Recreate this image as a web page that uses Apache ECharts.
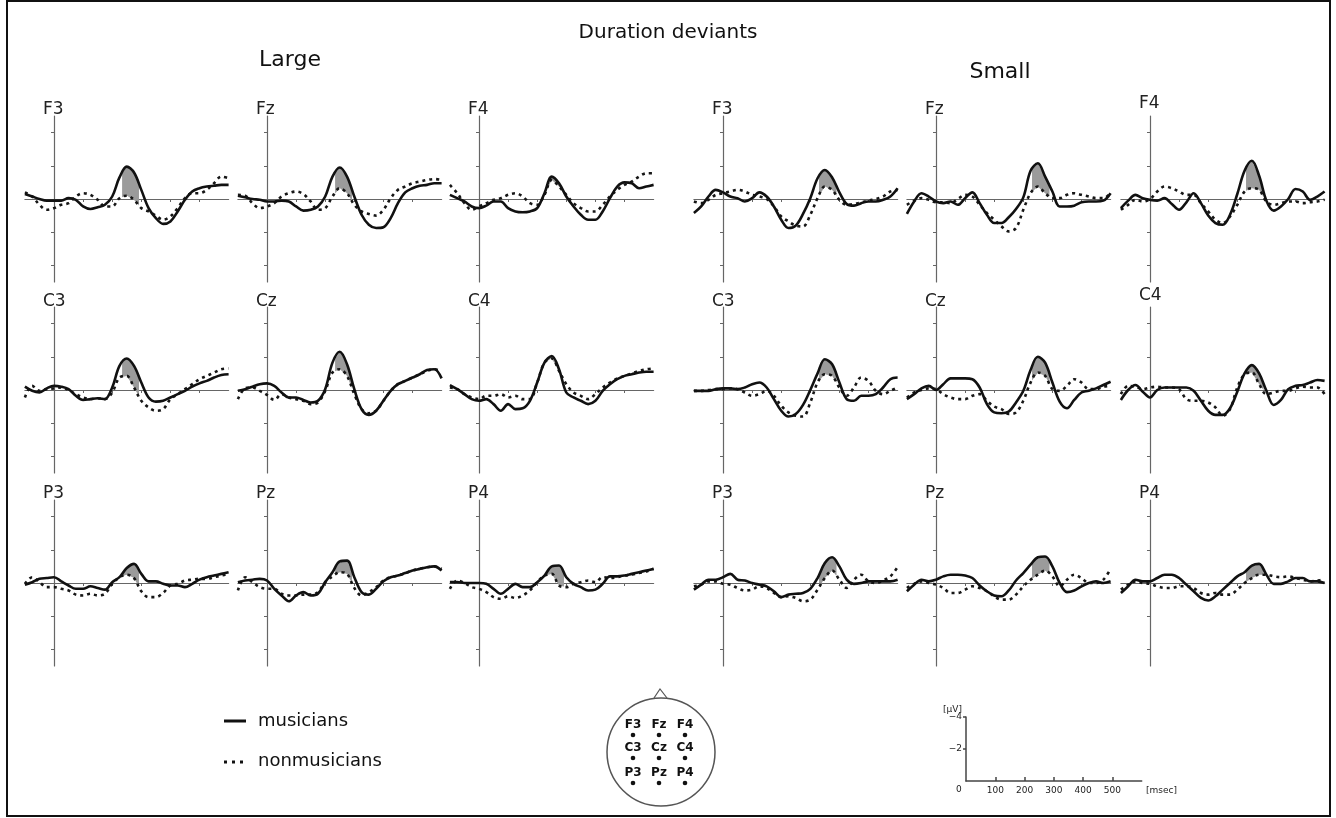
<!DOCTYPE html>
<html><head><meta charset="utf-8">
<script src="https://cdn.jsdelivr.net/npm/echarts@6/dist/echarts.min.js"></script>
<style>html,body{margin:0;padding:0;background:#fff}#c{width:1336px;height:818px}</style>
</head><body><div id="c"></div>
<script>
// time axis (ms)
const times = [-100,-75,-50,-25,0,25,50,75,100,125,150,175,200,225,250,275,300,325,350,375,400,425,450,475,500,525,550,575,600];
const electrodes = ['F3','Fz','F4','C3','Cz','C4','P3','Pz','P4'];
const conditions = ['Large','Small'];
const groups = ['musicians','nonmusicians'];
const scaleTicksMs = [100,200,300,400,500];
const scaleTicksUv = [-2,-4];

// Large deviants (µV, negative = up)
const largeMusF3 = [-0.3,-0.15,0,0.1,0.1,0.1,-0.05,0.05,0.45,0.6,0.5,0.35,-0.15,-1.3,-1.95,-1.6,-0.55,0.55,1.15,1.5,1.35,0.75,0.05,-0.45,-0.65,-0.75,-0.8,-0.85,-0.85];
const largeNonF3 = [-0.4,-0.15,0.35,0.65,0.55,0.35,0.25,-0.15,-0.35,-0.25,0.05,0.45,0.45,-0.05,-0.2,0.05,0.55,0.75,1.0,1.25,1.05,0.55,-0.05,-0.35,-0.35,-0.55,-0.95,-1.35,-1.25];
const largeMusFz = [-0.2,-0.1,0,0.05,0.15,0.15,0.1,0.15,0.45,0.7,0.65,0.45,-0.15,-1.35,-1.9,-1.35,-0.15,0.95,1.55,1.75,1.7,1.15,0.25,-0.4,-0.65,-0.8,-0.85,-0.95,-0.95];
const largeNonFz = [-0.25,-0.2,0.25,0.55,0.45,0.25,-0.15,-0.35,-0.45,-0.3,0.15,0.65,0.55,-0.15,-0.65,-0.35,0.35,0.75,0.9,1.0,0.65,-0.05,-0.55,-0.75,-0.95,-1.05,-1.15,-1.2,-1.15];
const largeMusF4 = [-0.25,-0.05,0.15,0.45,0.55,0.4,0.15,0.15,0.55,0.75,0.8,0.75,0.55,-0.35,-1.35,-0.95,-0.15,0.45,0.95,1.25,1.25,0.75,-0.05,-0.75,-1.0,-0.95,-0.65,-0.75,-0.85];
const largeNonF4 = [-0.85,-0.35,0.25,0.65,0.45,0.25,0.05,-0.05,-0.25,-0.35,-0.15,0.25,0.35,-0.25,-1.15,-0.75,-0.25,0.25,0.55,0.75,0.75,0.35,-0.15,-0.55,-0.85,-1.05,-1.35,-1.55,-1.55];
const largeMusC3 = [-0.2,0.05,0.15,-0.1,-0.25,-0.2,-0.05,0.35,0.6,0.55,0.5,0.55,-0.15,-1.45,-1.9,-1.45,-0.45,0.45,0.7,0.65,0.45,0.25,0.05,-0.2,-0.4,-0.55,-0.75,-0.9,-0.95];
const largeNonC3 = [0.45,-0.25,0.05,-0.05,-0.1,-0.15,0,0.25,0.45,0.55,0.5,0.55,0.15,-0.75,-0.85,-0.15,0.65,1.05,1.25,1.15,0.55,0.25,-0.05,-0.35,-0.65,-0.85,-1.05,-1.25,-1.3];
const largeMusCz = [0.05,-0.05,-0.2,-0.35,-0.4,-0.25,0.15,0.45,0.45,0.6,0.75,0.65,-0.05,-1.65,-2.3,-1.55,-0.05,1.15,1.5,1.25,0.65,0.05,-0.35,-0.55,-0.75,-0.95,-1.2,-1.25,-0.7];
const largeNonCz = [0.55,-0.1,-0.15,0.05,0.3,0.6,0.25,0.45,0.55,0.65,0.85,0.75,0.05,-1.05,-1.25,-0.85,0.25,1.15,1.4,1.25,0.65,0.05,-0.35,-0.55,-0.75,-0.95,-1.15,-1.25,-1.1];
const largeMusC4 = [-0.3,-0.05,0.25,0.55,0.65,0.55,0.85,1.25,0.85,1.15,1.1,0.65,-0.45,-1.65,-2.05,-1.25,0.15,0.45,0.65,0.85,0.65,0.05,-0.35,-0.65,-0.85,-0.95,-1.05,-1.1,-1.1];
const largeNonC4 = [-0.15,-0.05,0.25,0.45,0.55,0.35,0.35,0.25,0.45,0.35,0.55,0.55,-0.45,-1.65,-1.9,-1.15,-0.35,0.15,0.35,0.55,0.25,-0.15,-0.45,-0.7,-0.85,-1.0,-1.15,-1.25,-1.3];
const largeMusP3 = [0.1,-0.05,-0.25,-0.3,-0.35,-0.1,0.15,0.35,0.35,0.2,0.3,0.4,-0.05,-0.35,-0.9,-1.15,-0.55,-0.1,-0.1,0.05,0.15,0.15,0.25,0.05,-0.2,-0.35,-0.45,-0.55,-0.65];
const largeNonP3 = [0.05,-0.35,-0.05,0.25,0.25,0.35,0.45,0.7,0.75,0.65,0.75,0.65,0.05,-0.35,-0.5,-0.3,0.5,0.85,0.85,0.6,0.15,0.05,-0.15,-0.2,-0.25,-0.25,-0.35,-0.45,-0.55];
const largeMusPz = [-0.05,-0.15,-0.2,-0.25,-0.15,0.35,0.75,1.1,0.75,0.55,0.75,0.65,-0.05,-0.65,-1.3,-1.35,-0.35,0.55,0.7,0.35,-0.1,-0.35,-0.45,-0.6,-0.75,-0.85,-0.95,-1.0,-0.75];
const largeNonPz = [0.45,-0.35,-0.05,0.25,0.35,0.35,0.65,0.75,0.75,0.7,0.7,0.55,-0.05,-0.4,-0.65,-0.55,0.3,0.75,0.55,0.25,-0.15,-0.35,-0.45,-0.6,-0.75,-0.85,-0.95,-1.0,-0.85];
const largeMusP4 = [-0.05,-0.05,0,0,0,0.05,0.35,0.65,0.35,0.05,0.25,0.25,-0.05,-0.45,-1.0,-1.05,-0.35,0.05,0.25,0.45,0.4,0.05,-0.4,-0.4,-0.45,-0.55,-0.65,-0.75,-0.85];
const largeNonP4 = [0.35,-0.15,0,0.25,0.35,0.55,0.85,0.95,0.8,0.9,0.75,0.45,-0.05,-0.45,-0.55,0.15,0.25,0.05,-0.05,-0.15,-0.05,-0.35,-0.3,-0.35,-0.45,-0.5,-0.6,-0.7,-0.85];

// Small deviants
const smallMusF3 = [0.85,0.45,-0.15,-0.55,-0.4,-0.15,-0.05,0.15,-0.05,-0.4,-0.15,0.45,1.25,1.75,1.6,0.9,-0.05,-1.25,-1.75,-1.3,-0.4,0.3,0.4,0.25,0.15,0.15,0.05,-0.15,-0.65];
const smallNonF3 = [0.15,0.25,0.05,-0.25,-0.35,-0.45,-0.55,-0.45,-0.25,-0.15,0,0.45,1.05,1.35,1.6,1.65,0.95,-0.05,-0.75,-0.55,0.05,0.35,0.3,0.2,0.1,0,-0.15,-0.45,-0.55];
const smallMusFz = [0.9,0.15,-0.35,-0.15,0.15,0.25,0.15,0.35,-0.05,-0.4,0.25,0.95,1.45,1.45,1.1,0.6,-0.1,-1.7,-2.15,-1.35,-0.45,0.45,0.45,0.4,0.2,0.15,0.15,0.1,-0.35];
const smallNonFz = [0.35,0.1,-0.05,0.05,0.2,0.2,0.25,0,-0.25,-0.15,0.35,0.85,1.25,1.65,1.95,1.75,0.65,-0.35,-0.75,-0.35,-0.05,-0.05,-0.25,-0.35,-0.25,-0.15,-0.05,-0.05,-0.35];
const smallMusF4 = [0.55,0.1,-0.25,-0.05,0.05,0.1,-0.05,0.3,0.65,0.2,-0.35,0.25,1.0,1.45,1.55,0.95,-0.3,-1.7,-2.3,-1.4,0.1,0.7,0.45,0,-0.6,-0.45,0.05,-0.15,-0.45];
const smallNonF4 = [0.65,0.35,0.05,0.15,0,-0.45,-0.75,-0.65,-0.45,-0.25,-0.25,0.25,0.75,1.25,1.45,1.05,0.35,-0.45,-0.65,-0.55,0.15,0.35,0.25,0.15,0.15,0.25,0.2,0.15,0.05];
const smallMusC3 = [0.05,0.05,0.05,-0.05,-0.1,-0.1,-0.05,-0.15,-0.35,-0.45,-0.15,0.55,1.25,1.6,1.45,0.9,0,-1.0,-1.85,-1.55,-0.45,0.55,0.65,0.35,0.35,0.25,-0.15,-0.65,-0.75];
const smallNonC3 = [0.05,0.05,0,-0.05,-0.05,-0.1,-0.05,0.15,0.35,0.25,0.05,0.35,0.95,1.35,1.55,1.6,0.75,-0.45,-0.95,-0.85,-0.15,0.35,-0.15,-0.75,-0.55,0.05,0.25,0.05,-0.15];
const smallMusCz = [0.55,0.25,-0.1,-0.25,0,-0.35,-0.7,-0.7,-0.7,-0.65,-0.15,0.85,1.35,1.4,1.3,0.75,0.05,-1.2,-2.0,-1.65,-0.45,0.7,1.1,0.6,0.15,0.05,-0.1,-0.3,-0.5];
const smallNonCz = [0.45,0.15,0,-0.1,-0.05,0.25,0.45,0.55,0.55,0.35,0.25,0.65,1.0,1.15,1.45,1.35,0.65,-0.45,-1.05,-0.85,-0.05,0.05,-0.25,-0.65,-0.45,-0.05,-0.05,-0.2,-0.25];
const smallMusC4 = [0.6,0,-0.3,0.1,0.45,0,-0.15,-0.15,-0.15,-0.15,0.05,0.65,1.25,1.5,1.5,1.1,0.1,-1.0,-1.5,-1.0,0.05,0.9,0.6,-0.05,-0.25,-0.3,-0.45,-0.6,-0.55];
const smallNonC4 = [0.25,-0.25,-0.2,-0.05,-0.15,-0.2,-0.15,-0.15,-0.05,0.55,0.65,0.65,0.75,1.05,1.55,1.15,-0.15,-0.95,-1.05,-0.35,0.25,0.15,0.05,0.05,-0.1,-0.2,-0.15,-0.15,0.25];
const smallMusP3 = [0.4,0.1,-0.2,-0.2,-0.35,-0.55,-0.2,-0.15,0,0.1,0.2,0.5,0.85,0.7,0.65,0.6,0.35,-0.3,-1.2,-1.55,-1.0,-0.2,0.05,0,-0.1,-0.1,-0.1,-0.1,-0.2];
const smallNonP3 = [0.2,0.1,-0.1,-0.1,0.05,0.1,0.3,0.45,0.4,0.2,0.3,0.6,0.85,0.8,0.9,1.1,1.0,0.4,-0.3,-0.75,-0.2,0.3,-0.2,-0.5,-0.1,0,-0.15,-0.4,-0.95];
const smallMusPz = [0.5,0.1,-0.2,-0.1,-0.2,-0.4,-0.5,-0.5,-0.45,-0.3,0.15,0.5,0.75,0.8,0.45,-0.15,-0.6,-1.1,-1.55,-1.6,-1.0,0,0.55,0.45,0.2,0,-0.1,0,-0.1];
const smallNonPz = [0.3,0.05,-0.1,0,0.1,0.3,0.6,0.6,0.4,0.2,0.3,0.5,0.8,1.0,1.0,0.7,0.2,-0.2,-0.5,-0.75,-0.4,0.2,-0.2,-0.5,-0.3,0,0,-0.2,-0.85];
const smallMusP4 = [0.6,0.2,-0.2,-0.1,-0.1,-0.3,-0.5,-0.5,-0.3,0.1,0.5,0.9,1.05,0.8,0.4,0,-0.4,-0.65,-1.05,-1.15,-0.5,0.05,0.05,-0.1,-0.3,-0.3,-0.1,-0.1,0];
const smallNonP4 = [0.4,0.1,-0.1,0,0.05,0.2,0.3,0.3,0.2,0.2,0.3,0.6,0.7,0.6,0.7,0.7,0.4,0,-0.3,-0.5,-0.5,-0.4,-0.35,-0.4,-0.3,-0.2,-0.1,-0.15,-0.2];

// shaded analysis windows (ms)
const largeWindow = [234, 292];
const smallWindow = [330, 390];

const musData = {
  Large: [largeMusF3,largeMusFz,largeMusF4,largeMusC3,largeMusCz,largeMusC4,largeMusP3,largeMusPz,largeMusP4],
  Small: [smallMusF3,smallMusFz,smallMusF4,smallMusC3,smallMusCz,smallMusC4,smallMusP3,smallMusPz,smallMusP4]
};
const nonData = {
  Large: [largeNonF3,largeNonFz,largeNonF4,largeNonC3,largeNonCz,largeNonC4,largeNonP3,largeNonPz,largeNonP4],
  Small: [smallNonF3,smallNonFz,smallNonF4,smallNonC3,smallNonCz,smallNonC4,smallNonP3,smallNonPz,smallNonP4]
};
const windows = { Large: largeWindow, Small: smallWindow };

// ---------- layout ----------
const FONT = 'DejaVu Sans';
const PX100 = 29.1;          // px per 100 ms
const PXUV = 16.6;           // px per µV
const axisXs = { Large: [54, 267, 479], Small: [723, 936, 1150] };
const baseYs = [199, 390, 583];
const labelYs = [110, 302, 494];

const chart = echarts.init(document.getElementById('c'), null, { renderer: 'canvas' });

const grids = [], xAxes = [], yAxes = [], series = [], graphics = [];
const axisColor = '#666';

function interp(arr, t) {
  const k = (t - times[0]) / (times[1] - times[0]);
  const i = Math.max(0, Math.min(Math.floor(k), arr.length - 2));
  const f = k - i;
  return arr[i] * (1 - f) + arr[i + 1] * f;
}

let gi = 0;
conditions.forEach(cond => {
  electrodes.forEach((el, e) => {
    const row = Math.floor(e / 3), col = e % 3;
    const ax = axisXs[cond][col], by = baseYs[row];
    grids.push({ left: ax - PX100, top: by - 5 * PXUV, width: 7 * PX100, height: 10 * PXUV });
    xAxes.push({
      gridIndex: gi, type: 'value', min: -100, max: 600,
      axisLine: { show: true, onZero: true, lineStyle: { color: axisColor, width: 1.2 } },
      axisTick: { show: true, customValues: [100,200,300,400,500], length: 3, lineStyle: { color: axisColor } },
      axisLabel: { show: false }, splitLine: { show: false }
    });
    yAxes.push({
      gridIndex: gi, type: 'value', min: -5, max: 5, inverse: true,
      axisLine: { show: true, onZero: true, lineStyle: { color: axisColor, width: 1.2 } },
      axisTick: { show: true, customValues: [-4,-2,2,4], length: 3, lineStyle: { color: axisColor } },
      axisLabel: { show: false }, splitLine: { show: false }
    });
    const mus = musData[cond][e], non = nonData[cond][e], w = windows[cond];
    series.push({
      type: 'custom', xAxisIndex: gi, yAxisIndex: gi, silent: true, z: 1,
      data: [[w[0], w[1]]],
      renderItem: (params, api) => {
        const up = [], lo = [];
        for (let t = w[0]; t <= w[1] + 1e-6; t += 2) {
          const s = interp(mus, t), d = interp(non, t);
          up.push(api.coord([t, s]));
          lo.push(api.coord([t, Math.max(s, d)]));
        }
        return { type: 'polygon', shape: { points: up.concat(lo.reverse()) }, style: { fill: '#9b9b9b' } };
      }
    });
    series.push({
      name: groups[1], type: 'line', xAxisIndex: gi, yAxisIndex: gi, z: 3,
      data: times.map((t, i) => [t, non[i]]), smooth: 0.35, symbol: 'none', silent: true,
      lineStyle: { color: '#161616', width: 2.6, type: [3, 4], cap: 'butt' }
    });
    series.push({
      name: groups[0], type: 'line', xAxisIndex: gi, yAxisIndex: gi, z: 4,
      data: times.map((t, i) => [t, mus[i]]), smooth: 0.35, symbol: 'none', silent: true,
      lineStyle: { color: '#111', width: 2.6 }
    });
    const lift = (cond === 'Small' && col === 2 && row < 2) ? 6 : 0;
    graphics.push({ type: 'text', left: ax - 11, top: labelYs[row] - 9 - lift,
      style: { text: el, font: '17px "' + FONT + '"', fill: '#222' } });
    gi++;
  });
});

// scale reference axes
grids.push({ left: 966, top: 717, width: 175.7, height: 64 });
xAxes.push({
  gridIndex: gi, type: 'value', min: 0, max: 600,
  axisLine: { show: true, onZero: false, lineStyle: { color: '#444', width: 1.5 } },
  axisTick: { show: true, customValues: scaleTicksMs, length: 4, inside: true, lineStyle: { color: '#444', width: 1.5 } },
  axisLabel: { show: true, customValues: scaleTicksMs, margin: 5, fontSize: 9, fontFamily: FONT, color: '#222' },
  splitLine: { show: false }
});
yAxes.push({
  gridIndex: gi, type: 'value', min: -4, max: 0, inverse: true,
  axisLine: { show: true, onZero: false, lineStyle: { color: '#444', width: 1.5 } },
  axisTick: { show: true, customValues: scaleTicksUv, length: 3, lineStyle: { color: '#444', width: 1.5 } },
  axisLabel: { show: true, customValues: scaleTicksUv, margin: 4, fontSize: 9, fontFamily: FONT, color: '#222',
    formatter: v => '\u2212' + Math.abs(v) },
  splitLine: { show: false }
});
graphics.push({ type: 'text', left: 956, top: 785, style: { text: '0', font: '9px "' + FONT + '"', fill: '#222' } });
graphics.push({ type: 'text', left: 1146, top: 786, style: { text: '[msec]', font: '9px "' + FONT + '"', fill: '#222' } });
graphics.push({ type: 'text', left: 943, top: 705, style: { text: '[\u00b5V]', font: '9px "' + FONT + '"', fill: '#222' } });

// titles
graphics.push({ type: 'text', x: 668, y: 33, style: { text: 'Duration deviants', font: '20px "' + FONT + '"', fill: '#111', align: 'center', verticalAlign: 'middle' } });
graphics.push({ type: 'text', x: 290, y: 60, style: { text: conditions[0], font: '22px "' + FONT + '"', fill: '#111', align: 'center', verticalAlign: 'middle' } });
graphics.push({ type: 'text', x: 1000, y: 72, style: { text: conditions[1], font: '22px "' + FONT + '"', fill: '#111', align: 'center', verticalAlign: 'middle' } });

// legend
graphics.push({ type: 'line', shape: { x1: 224, y1: 721, x2: 246, y2: 721 }, style: { stroke: '#111', lineWidth: 3 } });
graphics.push({ type: 'line', shape: { x1: 224, y1: 762, x2: 248, y2: 762 }, style: { stroke: '#111', lineWidth: 3, lineDash: [3, 5] } });
graphics.push({ type: 'text', x: 258, y: 721, style: { text: groups[0], font: '18px "' + FONT + '"', fill: '#111', verticalAlign: 'middle' } });
graphics.push({ type: 'text', x: 258, y: 761, style: { text: groups[1], font: '18px "' + FONT + '"', fill: '#111', verticalAlign: 'middle' } });

// head diagram
graphics.push({ type: 'circle', shape: { cx: 661, cy: 752, r: 54 }, style: { fill: 'none', stroke: '#555', lineWidth: 1.5 } });
graphics.push({ type: 'polyline', shape: { points: [[654, 698], [660, 689], [667, 698]] }, style: { fill: 'none', stroke: '#555', lineWidth: 1.2 } });
const headCols = [633, 659, 685], headRows = [725, 748, 773];
electrodes.forEach((el, e) => {
  const r = Math.floor(e / 3), c = e % 3;
  graphics.push({ type: 'text', x: headCols[c], y: headRows[r], style: { text: el, font: 'bold 12px "' + FONT + '"', fill: '#111', align: 'center', verticalAlign: 'middle' } });
  graphics.push({ type: 'circle', shape: { cx: headCols[c], cy: headRows[r] + 10, r: 2.3 }, style: { fill: '#111' } });
});

// frame
graphics.push({ type: 'rect', shape: { x: 7, y: 1, width: 1323, height: 815 }, style: { fill: 'none', stroke: '#111', lineWidth: 2 }, z: -1 });

chart.setOption({
  animation: false,
  backgroundColor: '#fff',
  grid: grids, xAxis: xAxes, yAxis: yAxes, series: series,
  graphic: { elements: graphics }
});
</script></body></html>
